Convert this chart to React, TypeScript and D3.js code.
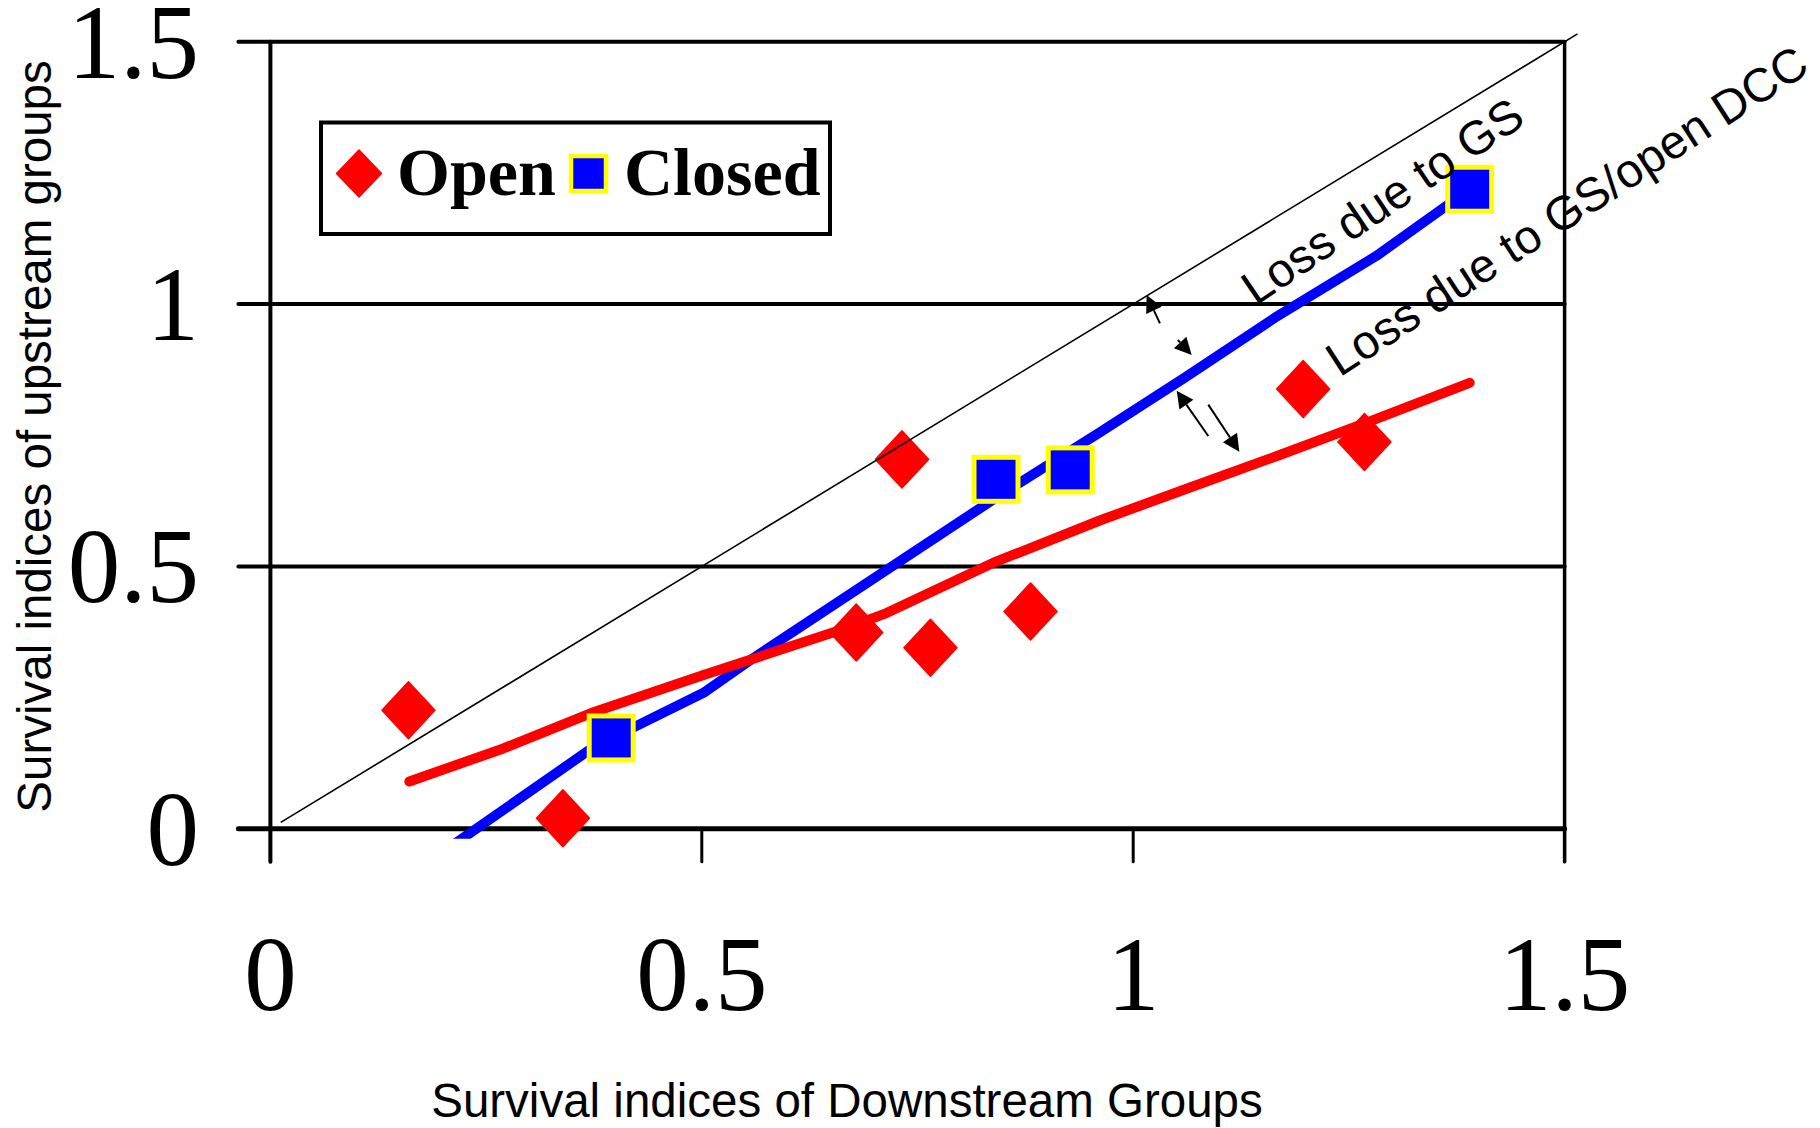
import React from "react";
import * as d3 from "d3";

const W = 1820;
const H = 1128;

// Data
const openX = [0.160, 0.339, 0.732, 0.679, 0.765, 0.881, 1.197, 1.268];
const openY = [0.226, 0.020, 0.704, 0.374, 0.345, 0.414, 0.838, 0.737];
const closedX = [0.395, 0.841, 0.927, 1.390];
const closedY = [0.173, 0.666, 0.684, 1.219];

const trendClosedX = [0.2125, 0.374, 0.502, 0.554, 0.841, 0.962, 1.060, 1.166, 1.282, 1.390];
const trendClosedY = [-0.03, 0.155, 0.259, 0.319, 0.631, 0.756, 0.860, 0.976, 1.092, 1.219];
const trendOpenX = [0.161, 0.270, 0.371, 0.502, 0.667, 0.714, 0.838, 0.962, 1.065, 1.169, 1.275, 1.390];
const trendOpenY = [0.090, 0.153, 0.220, 0.293, 0.382, 0.411, 0.507, 0.588, 0.650, 0.712, 0.777, 0.850];

const diagonal = [0.012, 1.515];

const xTicks = [0, 0.5, 1, 1.5];
const xTickLabels = ["0", "0.5", "1", "1.5"];
const yTicks = [0, 0.5, 1, 1.5];
const yTickLabels = ["0", "0.5", "1", "1.5"];

const xTitle = "Survival indices of Downstream Groups";
const yTitle = "Survival indices of upstream groups";
const seriesNames = ["Open", "Closed"];

// annotation arrows in data units: [x1,y1 (tail), x2,y2 (head)]
const arrows = [
  [1.031, 0.9634, 1.0156, 1.0173],
  [1.0518, 0.9316, 1.0678, 0.9032],
  [1.087, 0.7486, 1.0504, 0.8349],
  [1.087, 0.8084, 1.123, 0.7187],
];
const notes = [
  { text: "Loss due to GS", x: 1.142, y: 0.996, angle: -34 },
  { text: "Loss due to GS/open DCC", x: 1.2395, y: 0.860, angle: -33 },
];

const x = d3.scaleLinear().domain([0, 1.5]).range([270.4, 1564.6]);
const y = d3.scaleLinear().domain([0, 1.5]).range([828.7, 41.8]);

const diamond = (hw: number, hh: number) => `M0,${-hh}L${hw},0L0,${hh}L${-hw},0Z`;

function Arrow({ a }: { a: number[] }) {
  const x1 = x(a[0]), y1 = y(a[1]), x2 = x(a[2]), y2 = y(a[3]);
  const ang = Math.atan2(y2 - y1, x2 - x1);
  const L = 17, Wd = 8.5;
  const bx = x2 - L * Math.cos(ang), by = y2 - L * Math.sin(ang);
  const px = -Math.sin(ang) * Wd, py = Math.cos(ang) * Wd;
  return (
    <g>
      <line x1={x1} y1={y1} x2={bx} y2={by} stroke="#000" strokeWidth={2} />
      <path d={`M${x2},${y2}L${bx + px},${by + py}L${bx - px},${by - py}Z`} fill="#000" />
    </g>
  );
}

export default function App() {
  const lineGen = d3.line<[number, number]>().x(d => x(d[0])).y(d => y(d[1]));
  const closedPts = trendClosedX.map((v, i) => [v, trendClosedY[i]] as [number, number]);
  const openPts = trendOpenX.map((v, i) => [v, trendOpenY[i]] as [number, number]);
  const x0 = x(0), x15 = x(1.5), y0 = y(0), y15 = y(1.5);
  const clipBottom = y(-0.019);

  return (
    <svg width={W} height={H} style={{ position: "absolute", left: 0, top: 0, background: "#fff" }}
      xmlns="http://www.w3.org/2000/svg">
      <defs>
        <clipPath id="plotclip">
          <rect x={0} y={0} width={W} height={clipBottom} />
        </clipPath>
      </defs>
      <rect x={0} y={0} width={W} height={H} fill="#fff" />

      {/* horizontal gridlines + y ticks */}
      {yTicks.map((t, i) => (
        <line key={"gy" + i} x1={x0 - 32} x2={x15} y1={y(t)} y2={y(t)} stroke="#000"
          strokeWidth={t === 0 ? 5 : 4} strokeLinecap="round" />
      ))}
      {/* left axis */}
      <line x1={x0} x2={x0} y1={y15} y2={y0 + 33} stroke="#000" strokeWidth={4} strokeLinecap="round" />
      {/* right border */}
      <line x1={x15} x2={x15} y1={y15} y2={y0 + 33} stroke="#000" strokeWidth={3.5} strokeLinecap="round" />
      {/* x ticks */}
      {xTicks.map((t, i) => (
        <line key={"tx" + i} x1={x(t)} x2={x(t)} y1={y0} y2={y0 + 33} stroke="#000" strokeWidth={3} strokeLinecap="round" />
      ))}

      {/* tick labels */}
      {xTicks.map((t, i) => (
        <text key={"lx" + i} x={x(t)} y={1010} textAnchor="middle" fontFamily="'Liberation Serif', 'Times New Roman', serif"
          fontSize={105} fill="#000">{xTickLabels[i]}</text>
      ))}
      {yTicks.map((t, i) => (
        <text key={"ly" + i} x={199} y={y(t) + 36} textAnchor="end" fontFamily="'Liberation Serif', 'Times New Roman', serif"
          fontSize={105} fill="#000">{yTickLabels[i]}</text>
      ))}

      {/* axis titles */}
      <text x={847} y={1117} textAnchor="middle" fontFamily="'Liberation Sans', Arial, sans-serif" fontSize={47.5} fill="#000">{xTitle}</text>
      <text transform={`translate(51,436.5) rotate(-90)`} textAnchor="middle" fontFamily="'Liberation Sans', Arial, sans-serif"
        fontSize={47.5} fill="#000">{yTitle}</text>

      {/* trend lines */}
      <g clipPath="url(#plotclip)">
        <path d={lineGen(closedPts) || ""} fill="none" stroke="#0000FF" strokeWidth={10} strokeLinejoin="round" />
      </g>
      <path d={lineGen(openPts) || ""} fill="none" stroke="#FF0000" strokeWidth={10} strokeLinejoin="round" strokeLinecap="round" />

      {/* open markers */}
      {openX.map((v, i) => (
        <path key={"o" + i} d={diamond(26.5, 28.5)} transform={`translate(${x(v)},${y(openY[i])})`} fill="#FF0000"
          stroke="#FF0000" strokeWidth={1.5} strokeLinejoin="round" />
      ))}
      {/* closed markers */}
      {closedX.map((v, i) => (
        <rect key={"c" + i} x={x(v) - 22} y={y(closedY[i]) - 22} width={44} height={44} fill="#0000FF"
          stroke="#FFFF00" strokeWidth={5} />
      ))}

      {/* 1:1 line */}
      <line x1={x(diagonal[0])} y1={y(diagonal[0])} x2={x(diagonal[1])} y2={y(diagonal[1])} stroke="#000" strokeWidth={1.6} />

      {/* arrows */}
      {arrows.map((a, i) => <Arrow key={"a" + i} a={a} />)}

      {/* notes */}
      {notes.map((n, i) => (
        <text key={"n" + i} transform={`translate(${x(n.x)},${y(n.y)}) rotate(${n.angle})`}
          fontFamily="'Liberation Sans', Arial, sans-serif" fontSize={47.5} fill="#000">{n.text}</text>
      ))}

      {/* legend */}
      <g>
        <rect x={321} y={122.5} width={509} height={111.5} fill="#fff" stroke="#000" strokeWidth={4} />
        <path d={diamond(22.5, 23.5)} transform="translate(359,173.5)" fill="#FF0000" stroke="#FF0000" strokeWidth={1.5} strokeLinejoin="round" />
        <text x={397} y={195} fontFamily="'Liberation Serif', 'Times New Roman', serif" fontWeight="bold" fontSize={68} fill="#000">{seriesNames[0]}</text>
        <rect x={571} y={156} width={35} height={35} fill="#0000FF" stroke="#FFFF00" strokeWidth={4.5} />
        <text x={624} y={195} fontFamily="'Liberation Serif', 'Times New Roman', serif" fontWeight="bold" fontSize={68} fill="#000">{seriesNames[1]}</text>
      </g>
    </svg>
  );
}
